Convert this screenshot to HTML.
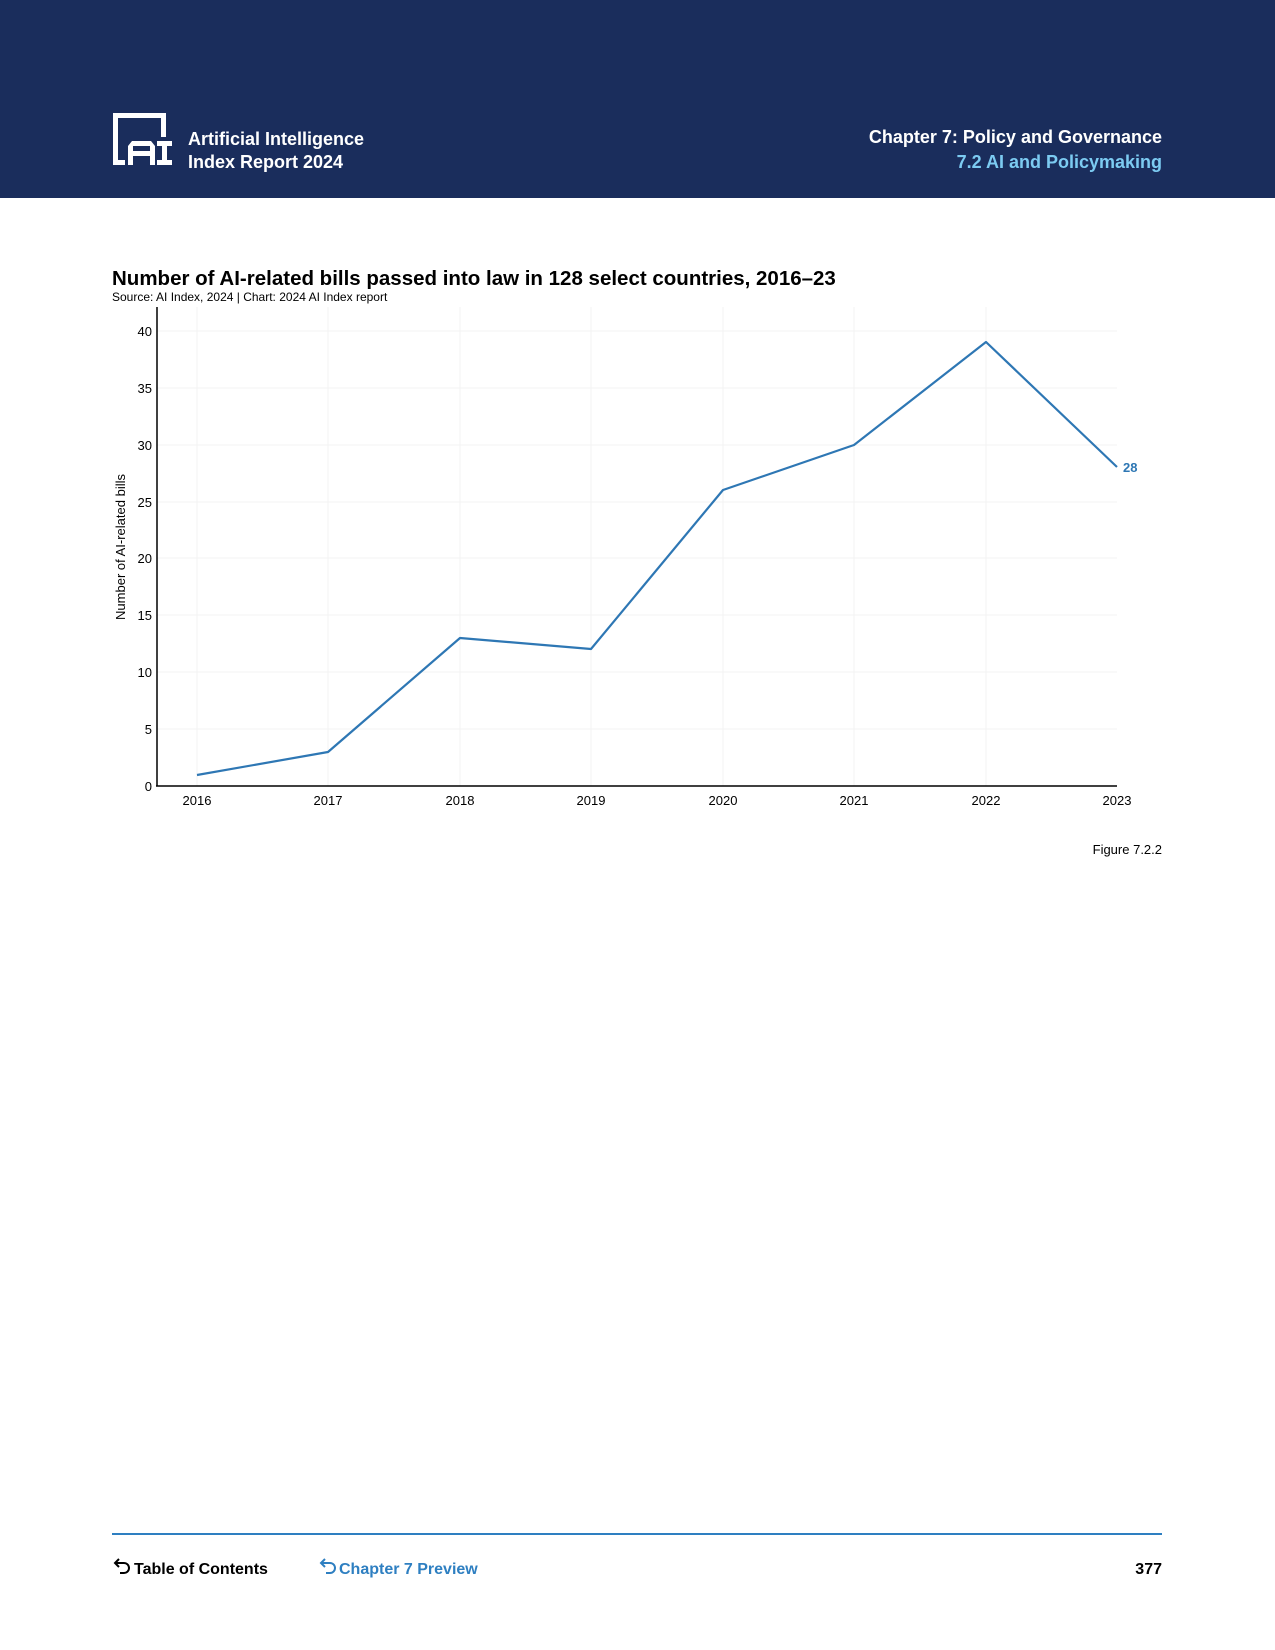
<!DOCTYPE html>
<html><head><meta charset="utf-8"><style>
html,body{margin:0;padding:0;background:#fff}
body{width:1275px;height:1650px;position:relative;overflow:hidden;font-family:"Liberation Sans",sans-serif}
svg{position:absolute;left:0;top:0}
</style></head><body>
<svg width="1275" height="1650" viewBox="0 0 1275 1650" xmlns="http://www.w3.org/2000/svg" font-family="Liberation Sans, sans-serif">
<rect x="0" y="0" width="1275" height="198" fill="#1a2d5c"/>
<g fill="#fff">
<rect x="113" y="113" width="5" height="52"/>
<rect x="113" y="113" width="53" height="5"/>
<rect x="161" y="113" width="5" height="24"/>
<rect x="113" y="160" width="12" height="5"/>
<path d="M128 165V146l4-5h19l4 5v19h-5v-9h-17v9zM133 151h17v-5h-17z"/>
<rect x="157" y="141" width="15" height="5"/>
<rect x="162" y="141" width="5" height="24"/>
<rect x="157" y="160" width="15" height="5"/>
</g>
<text x="188" y="145" fill="#fff" font-size="18" font-weight="bold">Artificial Intelligence</text>
<text x="188" y="168" fill="#fff" font-size="18" font-weight="bold">Index Report 2024</text>
<text x="1162" y="143" fill="#fff" font-size="18" font-weight="bold" text-anchor="end">Chapter 7: Policy and Governance</text>
<text x="1162" y="168" fill="#7ccbf2" font-size="18" font-weight="bold" text-anchor="end">7.2 AI and Policymaking</text>

<text x="112" y="285" fill="#000" font-size="20.5" font-weight="bold">Number of AI-related bills passed into law in 128 select countries, 2016–23</text>
<text x="112" y="301" fill="#000" font-size="12">Source: AI Index, 2024 | Chart: 2024 AI Index report</text>

<g stroke="#f3f3f3" stroke-width="1">
<line x1="157" y1="331" x2="1117" y2="331"/><line x1="157" y1="388" x2="1117" y2="388"/>
<line x1="157" y1="445" x2="1117" y2="445"/><line x1="157" y1="502" x2="1117" y2="502"/>
<line x1="157" y1="558" x2="1117" y2="558"/><line x1="157" y1="615" x2="1117" y2="615"/>
<line x1="157" y1="672" x2="1117" y2="672"/><line x1="157" y1="729" x2="1117" y2="729"/>
<line x1="197" y1="307" x2="197" y2="786"/><line x1="328" y1="307" x2="328" y2="786"/>
<line x1="460" y1="307" x2="460" y2="786"/><line x1="591" y1="307" x2="591" y2="786"/>
<line x1="723" y1="307" x2="723" y2="786"/><line x1="854" y1="307" x2="854" y2="786"/>
<line x1="986" y1="307" x2="986" y2="786"/>
</g>
<line x1="157" y1="307" x2="157" y2="786" stroke="#000" stroke-width="1.5"/>
<line x1="156" y1="786" x2="1117" y2="786" stroke="#000" stroke-width="1.5"/>
<g font-size="13" fill="#000" text-anchor="end">
<text x="152" y="336">40</text><text x="152" y="393">35</text><text x="152" y="450">30</text>
<text x="152" y="507">25</text><text x="152" y="563">20</text><text x="152" y="620">15</text>
<text x="152" y="677">10</text><text x="152" y="734">5</text><text x="152" y="791">0</text>
</g>
<g font-size="13" fill="#000" text-anchor="middle">
<text x="197" y="805">2016</text><text x="328" y="805">2017</text><text x="460" y="805">2018</text>
<text x="591" y="805">2019</text><text x="723" y="805">2020</text><text x="854" y="805">2021</text>
<text x="986" y="805">2022</text><text x="1117" y="805">2023</text>
</g>
<text transform="translate(125,547) rotate(-90)" font-size="13" fill="#000" text-anchor="middle">Number of AI-related bills</text>
<polyline fill="none" stroke="#2e77b4" stroke-width="2.2" stroke-linejoin="round"
points="197,775 328,752 460,638 591,649 723,490 854,445 986,342 1117,467"/>
<text x="1123" y="472" font-size="13" font-weight="bold" fill="#2e77b4">28</text>
<text x="1162" y="854" font-size="13" fill="#000" text-anchor="end">Figure 7.2.2</text>

<line x1="112" y1="1534" x2="1162" y2="1534" stroke="#2e7fc1" stroke-width="2"/>
<g fill="none" stroke-width="2">
<path d="M116 1563h8a5 5 0 0 1 0 10h-4" stroke="#000"/>
<path d="M119 1559l-4 4 4 4" stroke="#000"/>
<path d="M322 1563h8a5 5 0 0 1 0 10h-4" stroke="#2e7fc1"/>
<path d="M325 1559l-4 4 4 4" stroke="#2e7fc1"/>
</g>
<text x="134" y="1574" font-size="16" font-weight="bold" fill="#000">Table of Contents</text>
<text x="339" y="1574" font-size="16" font-weight="bold" fill="#2e7fc1">Chapter 7 Preview</text>
<text x="1162" y="1574" font-size="16" font-weight="bold" fill="#000" text-anchor="end">377</text>
</svg>
</body></html>
